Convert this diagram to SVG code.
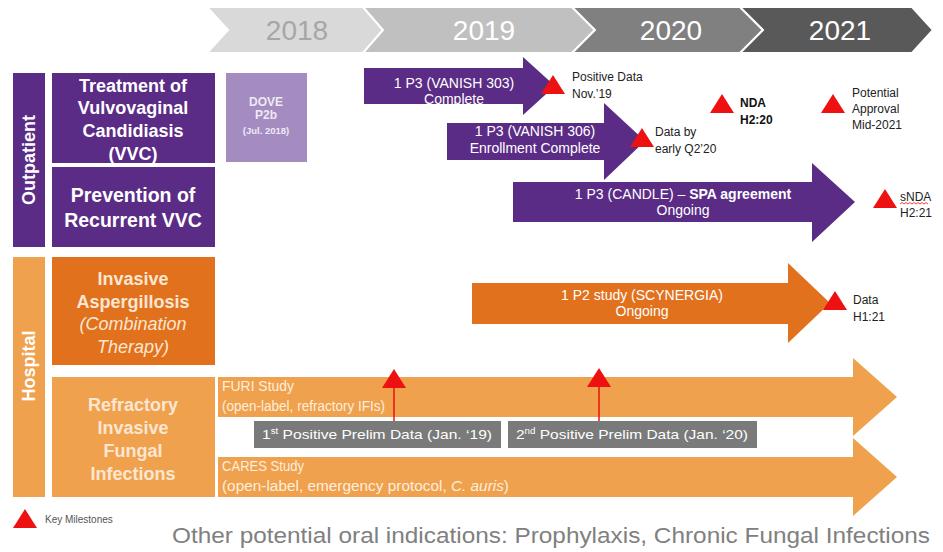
<svg xmlns="http://www.w3.org/2000/svg" width="943" height="552" viewBox="0 0 943 552">
<style>
  text { font-family: "Liberation Sans", Arial, sans-serif; }
  .yr { font-size: 28px; text-anchor: middle; }
  .purple { fill: #5b2c86; }
  .dorange { fill: #e2711d; }
  .lorange { fill: #f0a14d; }
  .title { font-size: 18px; font-weight: bold; fill: #ffffff; text-anchor: middle; }
  .titleo { font-size: 18px; font-weight: bold; fill: #fbe6d2; text-anchor: middle; }
  .side { font-size: 18px; font-weight: bold; fill: #ffffff; text-anchor: middle; }
  .arrtxt { font-size: 14px; fill: #ffffff; text-anchor: middle; }
  .ms { font-size: 12px; fill: #222222; }
  .msb { font-size: 12px; fill: #111111; font-weight: bold; }
  .tri { fill: #ee1111; }
  .stud { font-size: 14px; fill: #fdeedd; }
  .gbox { fill: #7a7a7a; }
  .gtxt { font-size: 13.5px; fill: #ffffff; }
</style>
<defs>
  <polygon id="mtri" points="0,-10 12,9 -12,9"/>
</defs>

<g id="timeline">
  <polygon points="207,7 363,7 383,30 363,53 207,53 228,30" fill="#d9d9d9" stroke="#ffffff" stroke-width="2"/>
  <polygon points="363,7 572,7 595,30 572,53 363,53 383,30" fill="#c0c0c0" stroke="#ffffff" stroke-width="2"/>
  <polygon points="572,7 740,7 763,30 740,53 572,53 595,30" fill="#808080" stroke="#ffffff" stroke-width="2"/>
  <polygon points="740,7 912,7 933,30 912,53 740,53 763,30" fill="#595959" stroke="#ffffff" stroke-width="2"/>
  <text class="yr" x="297" y="40" fill="#a6a6a6">2018</text>
  <text class="yr" x="484" y="40" fill="#ffffff">2019</text>
  <text class="yr" x="671" y="40" fill="#ffffff">2020</text>
  <text class="yr" x="840" y="40" fill="#ffffff">2021</text>
</g>

<g id="outpatient">
  <rect class="purple" x="13" y="73" width="32" height="174"/>
  <text class="side" x="0" y="0" transform="translate(35,160) rotate(-90)">Outpatient</text>
</g>
<g id="hospital">
  <rect class="lorange" x="13" y="257" width="32" height="240"/>
  <text class="side" x="0" y="0" transform="translate(35,366) rotate(-90)">Hospital</text>
</g>

<g id="vvc-treatment">
  <rect class="purple" x="52" y="73" width="163" height="90"/>
  <text class="title" x="133" y="92">Treatment of</text>
  <text class="title" x="133" y="114">Vulvovaginal</text>
  <text class="title" x="133" y="137">Candidiasis</text>
  <text class="title" x="133" y="160">(VVC)</text>
</g>
<g id="vvc-prevention">
  <rect class="purple" x="52" y="167" width="163" height="80"/>
  <text class="title" x="133" y="202" style="font-size:19.5px">Prevention of</text>
  <text class="title" x="133" y="227" style="font-size:19.5px">Recurrent VVC</text>
</g>
<g id="dove">
  <rect x="226" y="73" width="81" height="89" fill="#a58cc0"/>
  <text x="266" y="106" text-anchor="middle" font-size="12" font-weight="bold" fill="#efe8f6">DOVE</text>
  <text x="266" y="119" text-anchor="middle" font-size="12" font-weight="bold" fill="#efe8f6">P2b</text>
  <text x="266" y="134" text-anchor="middle" font-size="9.5" font-weight="bold" fill="#efe8f6">(Jul. 2018)</text>
</g>

<g id="aspergillosis">
  <rect class="dorange" x="52" y="257" width="163" height="108"/>
  <text class="titleo" x="133" y="285">Invasive</text>
  <text class="titleo" x="133" y="308">Aspergillosis</text>
  <text class="titleo" x="133" y="330" style="font-weight:normal;font-style:italic">(Combination</text>
  <text class="titleo" x="133" y="353" style="font-weight:normal;font-style:italic">Therapy)</text>
</g>
<g id="refractory">
  <rect class="lorange" x="52" y="377" width="163" height="120"/>
  <text class="titleo" x="133" y="411">Refractory</text>
  <text class="titleo" x="133" y="434">Invasive</text>
  <text class="titleo" x="133" y="457">Fungal</text>
  <text class="titleo" x="133" y="480">Infections</text>
</g>

<g id="connectors">
  <g id="vanish303">
    <polygon class="purple" points="364,68 523,68 523,57 555,86 523,115 523,104 364,104"/>
    <text class="arrtxt" x="454" y="88">1 P3 (VANISH 303)</text>
    <text class="arrtxt" x="454" y="104">Complete</text>
  </g>
  <g id="vanish306">
    <polygon class="purple" points="447,123 604,123 604,103 645,141 604,180 604,160 447,160"/>
    <text class="arrtxt" x="535" y="136">1 P3 (VANISH 306)</text>
    <text class="arrtxt" x="535" y="153">Enrollment Complete</text>
  </g>
  <g id="candle">
    <polygon class="purple" points="513,182 812,182 812,163 855,202 812,242 812,222 513,222"/>
    <text class="arrtxt" x="683" y="199">1 P3 (CANDLE) –  <tspan font-weight="bold">SPA agreement</tspan></text>
    <text class="arrtxt" x="683" y="215">Ongoing</text>
  </g>
  <g id="scynergia">
    <polygon class="dorange" points="472,283 788,283 788,263 830,303 788,343 788,324 472,324"/>
    <text class="arrtxt" x="642" y="300">1 P2 study (SCYNERGIA)</text>
    <text class="arrtxt" x="642" y="316">Ongoing</text>
  </g>
  <g id="furi">
    <polygon class="lorange" points="218,377 853,377 853,358 897,397 853,436 853,417 218,417"/>
    <text class="stud" x="222" y="391" textLength="72" lengthAdjust="spacingAndGlyphs">FURI Study</text>
    <text class="stud" x="222" y="411" textLength="163" lengthAdjust="spacingAndGlyphs">(open-label, refractory IFIs)</text>
  </g>
  <g id="cares">
    <polygon class="lorange" points="218,457 853,457 853,438 897,477 853,516 853,497 218,497"/>
    <text class="stud" x="222" y="471" textLength="82" lengthAdjust="spacingAndGlyphs">CARES Study</text>
    <text class="stud" x="222" y="491" textLength="287" lengthAdjust="spacingAndGlyphs">(open-label, emergency protocol, <tspan font-style="italic">C. auris</tspan>)</text>
  </g>
  <line x1="394" y1="385" x2="394" y2="421" stroke="#ee1111" stroke-width="1.5"/>
  <line x1="599" y1="384" x2="599" y2="421" stroke="#ee1111" stroke-width="1.5"/>
</g>

<g id="prelim1">
  <rect class="gbox" x="254" y="421" width="247" height="27"/>
  <text class="gtxt" x="262" y="439" textLength="230" lengthAdjust="spacingAndGlyphs">1<tspan font-size="8.5" dy="-5">st</tspan><tspan dy="5"> Positive Prelim Data (Jan. ‘19)</tspan></text>
</g>
<g id="prelim2">
  <rect class="gbox" x="508" y="421" width="249" height="27"/>
  <text class="gtxt" x="516" y="439" textLength="232" lengthAdjust="spacingAndGlyphs">2<tspan font-size="8.5" dy="-5">nd</tspan><tspan dy="5"> Positive Prelim Data (Jan. ‘20)</tspan></text>
</g>

<g id="milestones">
  <use href="#mtri" class="tri" x="394" y="379"/>
  <use href="#mtri" class="tri" x="599" y="378"/>
  <use href="#mtri" class="tri" x="553" y="85"/>
  <text class="ms" x="572" y="81">Positive Data</text>
  <text class="ms" x="572" y="98">Nov.’19</text>
  <use href="#mtri" class="tri" x="642" y="138"/>
  <text class="ms" x="655" y="136">Data by</text>
  <text class="ms" x="655" y="153">early Q2’20</text>
  <use href="#mtri" class="tri" x="722" y="104"/>
  <text class="msb" x="740" y="107">NDA</text>
  <text class="msb" x="740" y="124">H2:20</text>
  <use href="#mtri" class="tri" x="833" y="104"/>
  <text class="ms" x="852" y="97">Potential</text>
  <text class="ms" x="852" y="113">Approval</text>
  <text class="ms" x="852" y="129">Mid-2021</text>
  <use href="#mtri" class="tri" x="885" y="199"/>
  <text class="ms" x="900" y="201">sNDA</text>
  <path d="M900,204 l2,-1.5 l2,1.5 l2,-1.5 l2,1.5 l2,-1.5 l2,1.5 l2,-1.5 l2,1.5 l2,-1.5 l2,1.5 l2,-1.5 l2,1.5 l2,-1.5 l2,1.5" fill="none" stroke="#ee1111" stroke-width="0.8"/>
  <text class="ms" x="900" y="217">H2:21</text>
  <use href="#mtri" class="tri" x="835" y="301"/>
  <text class="ms" x="853" y="304">Data</text>
  <text class="ms" x="853" y="321">H1:21</text>
</g>

<g id="legend">
  <use href="#mtri" class="tri" x="25" y="519"/>
  <text x="45" y="523" font-size="10" fill="#555555">Key Milestones</text>
  <text x="172" y="543" font-size="22" fill="#808080" textLength="758" lengthAdjust="spacingAndGlyphs">Other potential oral indications: Prophylaxis, Chronic Fungal Infections</text>
</g>
</svg>
